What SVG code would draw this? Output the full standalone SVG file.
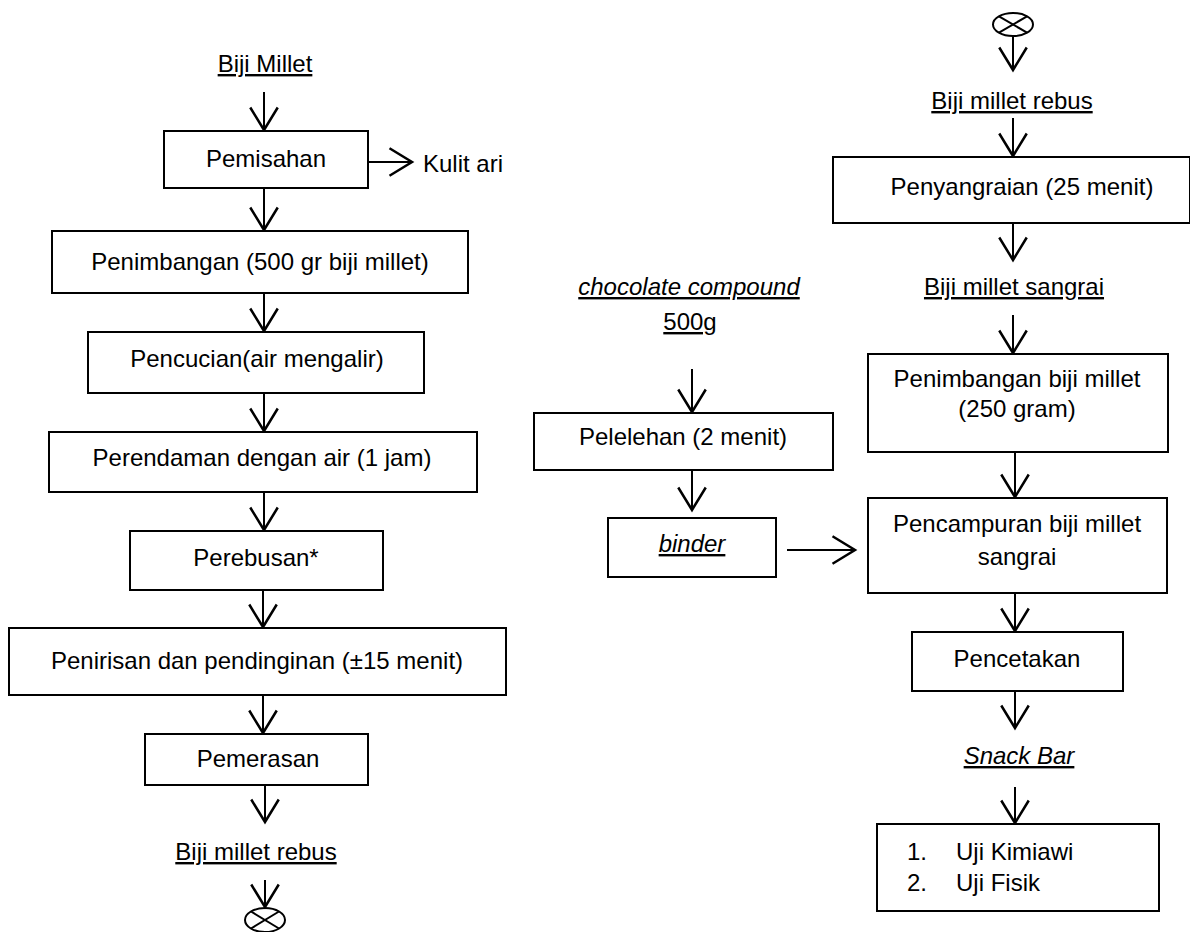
<svg xmlns="http://www.w3.org/2000/svg" width="1190" height="932" viewBox="0 0 1190 932">
<defs>
<style>
text{font-family:"Liberation Sans",Arial,sans-serif;font-size:24px;fill:#000}
.c{text-anchor:middle}
.u{text-decoration:underline}
.i{font-style:italic}
.box{fill:#fff;stroke:#000;stroke-width:2}
.ln{stroke:#000;stroke-width:2;fill:none}
.ar{stroke:#000;stroke-width:2;fill:none;marker-end:url(#ah)}
</style>
<marker id="ah" markerUnits="userSpaceOnUse" markerWidth="30" markerHeight="30" viewBox="-20 -12 22 24" refX="0" refY="0" orient="auto">
<path d="M -18 -11 L 0 0 L -18 11" fill="none" stroke="#000" stroke-width="2"/>
</marker>
</defs>
<rect width="1190" height="932" fill="#fff"/>

<g id="connectors">
<line class="ar" x1="264" y1="92" x2="264" y2="130"/>
<line class="ar" x1="368" y1="162" x2="412" y2="162"/>
<line class="ar" x1="264" y1="188" x2="264" y2="230"/>
<line class="ar" x1="264" y1="293" x2="264" y2="331"/>
<line class="ar" x1="264" y1="393" x2="264" y2="431"/>
<line class="ar" x1="264" y1="492" x2="264" y2="530"/>
<line class="ar" x1="263" y1="590" x2="263" y2="627"/>
<line class="ar" x1="263" y1="695" x2="263" y2="733"/>
<line class="ar" x1="265" y1="785" x2="265" y2="822"/>
<line class="ar" x1="265" y1="880" x2="265" y2="907"/>
<line class="ar" x1="1013" y1="37" x2="1013" y2="70"/>
<line class="ar" x1="1013" y1="118" x2="1013" y2="156"/>
<line class="ar" x1="1013" y1="223" x2="1013" y2="260"/>
<line class="ar" x1="1013" y1="315" x2="1013" y2="353"/>
<line class="ar" x1="1015" y1="452" x2="1015" y2="497"/>
<line class="ar" x1="1015" y1="593" x2="1015" y2="631"/>
<line class="ar" x1="1015" y1="691" x2="1015" y2="728"/>
<line class="ar" x1="1015" y1="787" x2="1015" y2="823"/>
<line class="ar" x1="692" y1="369" x2="692" y2="412"/>
<line class="ar" x1="692" y1="470" x2="692" y2="510"/>
<line class="ar" x1="787" y1="550" x2="855" y2="550"/>
</g>

<g id="n-biji-millet"><text class="c u" x="265" y="72">Biji Millet</text></g>
<g id="n-pemisahan"><rect class="box" x="164" y="131" width="204" height="57"/><text class="c" x="266" y="167">Pemisahan</text></g>
<g id="n-kulit-ari"><text x="423" y="172">Kulit ari</text></g>
<g id="n-penimbangan"><rect class="box" x="52" y="231" width="416" height="62"/><text class="c" x="260" y="270">Penimbangan (500 gr biji millet)</text></g>
<g id="n-pencucian"><rect class="box" x="88" y="332" width="336" height="61"/><text class="c" x="257" y="367">Pencucian(air mengalir)</text></g>
<g id="n-perendaman"><rect class="box" x="49" y="432" width="428" height="60"/><text class="c" x="262" y="466">Perendaman dengan air (1 jam)</text></g>
<g id="n-perebusan"><rect class="box" x="130" y="531" width="253" height="59"/><text class="c" x="256" y="566">Perebusan*</text></g>
<g id="n-penirisan"><rect class="box" x="9" y="628" width="497" height="67"/><text class="c" x="257" y="669">Penirisan dan pendinginan (±15 menit)</text></g>
<g id="n-pemerasan"><rect class="box" x="145" y="734" width="223" height="51"/><text class="c" x="258" y="767">Pemerasan</text></g>
<g id="n-biji-rebus-1"><text class="c u" x="256" y="860">Biji millet rebus</text></g>
<g id="n-connector-1"><ellipse class="ln" cx="265" cy="920" rx="20" ry="12"/><line class="ln" x1="251" y1="911.5" x2="279" y2="928.5"/><line class="ln" x1="279" y1="911.5" x2="251" y2="928.5"/></g>

<g id="n-connector-2"><ellipse class="ln" cx="1013" cy="24.5" rx="20" ry="11.5"/><line class="ln" x1="999" y1="16.4" x2="1027" y2="32.6"/><line class="ln" x1="1027" y1="16.4" x2="999" y2="32.6"/></g>
<g id="n-biji-rebus-2"><text class="c u" x="1012" y="109">Biji millet rebus</text></g>
<g id="n-penyangraian"><rect class="box" x="833" y="157" width="357" height="66"/><text class="c" x="1022" y="195">Penyangraian (25 menit)</text></g>
<g id="n-biji-sangrai"><text class="c u" x="1014" y="295">Biji millet sangrai</text></g>
<g id="n-penimbangan-2"><rect class="box" x="868" y="354" width="300" height="98"/><text class="c" x="1017" y="387">Penimbangan biji millet</text><text class="c" x="1017" y="417">(250 gram)</text></g>
<g id="n-pencampuran"><rect class="box" x="868" y="498" width="299" height="95"/><text class="c" x="1017" y="532">Pencampuran biji millet</text><text class="c" x="1017" y="565">sangrai</text></g>
<g id="n-pencetakan"><rect class="box" x="912" y="632" width="211" height="59"/><text class="c" x="1017" y="667">Pencetakan</text></g>
<g id="n-snack-bar"><text class="c u i" x="1019" y="764">Snack Bar</text></g>
<g id="n-uji"><rect class="box" x="877" y="824" width="282" height="87"/><text x="907" y="860">1.</text><text x="956" y="860">Uji Kimiawi</text><text x="907" y="891">2.</text><text x="956" y="891">Uji Fisik</text></g>

<g id="n-chocolate"><text class="c u i" x="689" y="295">chocolate compound</text><text class="c u" x="690" y="330">500g</text></g>
<g id="n-pelelehan"><rect class="box" x="534" y="413" width="299" height="57"/><text class="c" x="683" y="445">Pelelehan (2 menit)</text></g>
<g id="n-binder"><rect class="box" x="608" y="518" width="168" height="59"/><text class="c u i" x="692" y="552">binder</text></g>
</svg>
